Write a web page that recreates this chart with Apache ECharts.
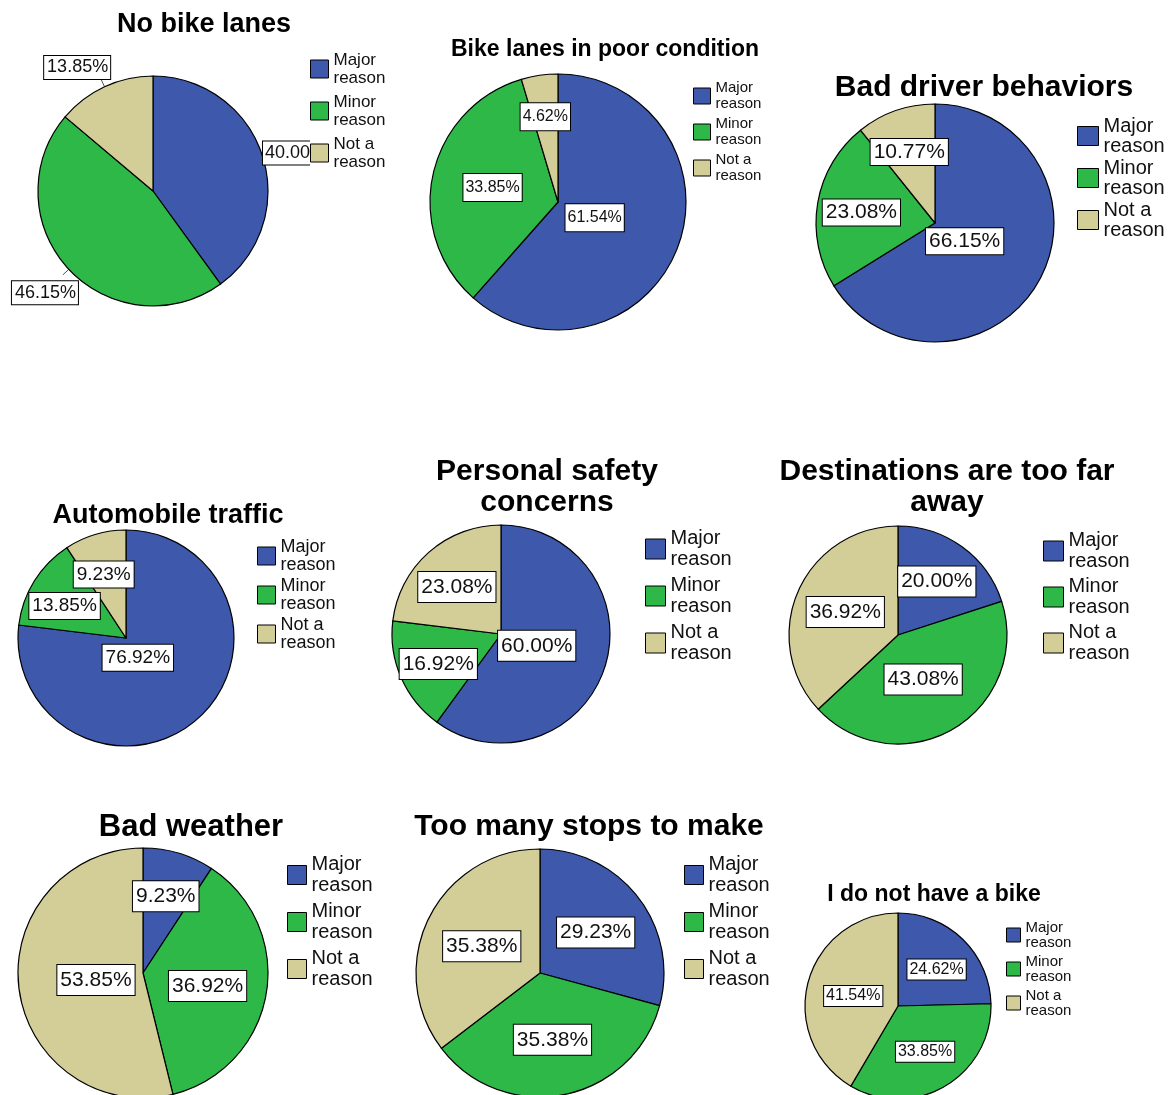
<!DOCTYPE html>
<html>
<head>
<meta charset="utf-8">
<script src="https://cdn.jsdelivr.net/npm/echarts@6/dist/echarts.min.js"></script>
<style>
  html, body { margin: 0; padding: 0; background: #fff; }
  #main { width: 1175px; height: 1095px; }
</style>
</head>
<body>
<div id="main"></div>
<script>
// ---- data ----
const categories = ['Major reason', 'Minor reason', 'Not a reason'];
const chartTitles = [
  'No bike lanes',
  'Bike lanes in poor condition',
  'Bad driver behaviors',
  'Automobile traffic',
  'Personal safety\nconcerns',
  'Destinations are too far\naway',
  'Bad weather',
  'Too many stops to make',
  'I do not have a bike'
];
const noBikeLanes     = [40.00, 46.15, 13.85];
const poorCondition   = [61.54, 33.85, 4.62];
const badDrivers      = [66.15, 23.08, 10.77];
const autoTraffic     = [76.92, 13.85, 9.23];
const personalSafety  = [60.00, 16.92, 23.08];
const tooFar          = [20.00, 43.08, 36.92];
const badWeather      = [9.23, 36.92, 53.85];
const tooManyStops    = [29.23, 35.38, 35.38];
const noBike          = [24.62, 33.85, 41.54];
const seriesValues = [noBikeLanes, poorCondition, badDrivers, autoTraffic,
  personalSafety, tooFar, badWeather, tooManyStops, noBike];

// ---- layout / style ----
const colors = ['#3E58AC', '#2EB848', '#D3CE97'];
const layouts = [
  { c: [153, 191], r: 115, tx: 204, ty: 10,  tf: 27, tl: 30, lx: 310,  ly: 51,  lf: 17, ll: 18, lg: 6, iw: 18, ih: 18,
    vf: 18, vp: [3, 2, 2, 2], outside: true, lw: 62, nudge: [[-7, 0], [15, 18], [9, -12]] },
  { c: [558, 202], r: 128, tx: 605, ty: 37,  tf: 23, tl: 25, lx: 693,  ly: 80,  lf: 15, ll: 16, lg: 4, iw: 17, ih: 16,
    vf: 16, vp: [6, 2, 5, 2], nudge: [[-26, -8], [0, 0], [-3, -19]] },
  { c: [935, 223], r: 119, tx: 984, ty: 72,  tf: 30, tl: 32, lx: 1077, ly: 116, lf: 20, ll: 20, lg: 2, iw: 21, ih: 19,
    vf: 21, vp: [3, 3, 2, 3], nudge: [[-25, -12], [-12, 0], [-5, -12]] },
  { c: [126, 638], r: 108, tx: 168, ty: 501, tf: 27, tl: 29, lx: 257,  ly: 538, lf: 18, ll: 18, lg: 3, iw: 18, ih: 18,
    vf: 19, vp: [4, 3, 3, 3], nudge: [[-26, -23], [-13, -2], [-6, -9]] },
  { c: [501, 634], r: 109, tx: 547, ty: 456, tf: 30, tl: 31, lx: 645,  ly: 528, lf: 20, ll: 21, lg: 5, iw: 20, ih: 20,
    vf: 21, vp: [5, 3, 4, 3], nudge: [[-19, -6], [-10, 7], [-6, -4]] },
  { c: [898, 635], r: 109, tx: 947, ty: 456, tf: 30, tl: 31, lx: 1043, ly: 530, lf: 20, ll: 21, lg: 4, iw: 20, ih: 20,
    vf: 21, vp: [5, 3, 4, 3], nudge: [[5, -7], [-4, -5], [0, 0]] },
  { c: [143, 973], r: 125, tx: 191, ty: 811, tf: 31, tl: 32, lx: 287,  ly: 854, lf: 20, ll: 21, lg: 5, iw: 19, ih: 19,
    vf: 21, vp: [5, 3, 4, 3], nudge: [[4, -14], [0, 2], [18, -1]] },
  { c: [540, 973], r: 124, tx: 589, ty: 811, tf: 30, tl: 32, lx: 684,  ly: 854, lf: 20, ll: 21, lg: 5, iw: 19, ih: 19,
    vf: 21, vp: [5, 3, 4, 3], nudge: [[4, -1], [0, 3], [0, 2]] },
  { c: [898, 1006], r: 93, tx: 934, ty: 882, tf: 23, tl: 25, lx: 1006, ly: 920, lf: 15, ll: 15, lg: 4, iw: 14, ih: 14,
    vf: 16, vp: [2, 2, 2, 2], nudge: [[4, -1], [2, 3], [3, 3]] }
];
const FONT = '"Liberation Sans", Arial, sans-serif';

const titles = [], legends = [], series = [];
layouts.forEach((L, i) => {
  titles.push({
    text: chartTitles[i],
    left: L.tx, top: L.ty, textAlign: 'center', padding: 0,
    textStyle: { fontFamily: FONT, fontWeight: 'bold', fontSize: L.tf, lineHeight: L.tl, color: '#000' }
  });
  legends.push({
    data: categories,
    orient: 'vertical', left: L.lx, top: L.ly, padding: 0,
    itemWidth: L.iw, itemHeight: L.ih, itemGap: L.lg,
    icon: 'rect', selectedMode: false,
    backgroundColor: i === 0 ? '#fff' : 'transparent',
    itemStyle: { borderColor: '#000', borderWidth: 1 },
    formatter: name => name.replace(/ (\S+)$/, '\n$1'),
    textStyle: { fontFamily: FONT, fontSize: L.lf, lineHeight: L.ll, color: '#111' }
  });
  const label = {
    show: true,
    position: L.outside ? 'outside' : 'inside',
    formatter: p => p.value.toFixed(2) + '%',
    fontFamily: FONT, fontSize: L.vf, color: '#111',
    backgroundColor: '#fff', borderColor: '#000', borderWidth: 1,
    padding: L.vp,
    overflow: 'none',
    distanceToLabelLine: 0
  };
  if (L.lw) label.width = L.lw;
  series.push({
    type: 'pie',
    center: L.c, radius: L.r,
    startAngle: 90, clockwise: true,
    animation: false, silent: true,
    emphasis: { disabled: true },
    itemStyle: { borderColor: '#000', borderWidth: 1.2 },
    label: label,
    labelLine: { show: !!L.outside, length: 8, length2: 0, lineStyle: { color: '#555', width: 1 } },
    labelLayout: p => ({ dx: L.nudge[p.dataIndex][0], dy: L.nudge[p.dataIndex][1], hideOverlap: false }),
    data: categories.map((name, k) => ({ name, value: seriesValues[i][k], itemStyle: { color: colors[k] } }))
  });
});

const chart = echarts.init(document.getElementById('main'), null, { renderer: 'canvas' });
chart.setOption({
  backgroundColor: '#fff',
  animation: false,
  color: colors,
  title: titles,
  legend: legends,
  series: series
});
</script>
</body>
</html>
